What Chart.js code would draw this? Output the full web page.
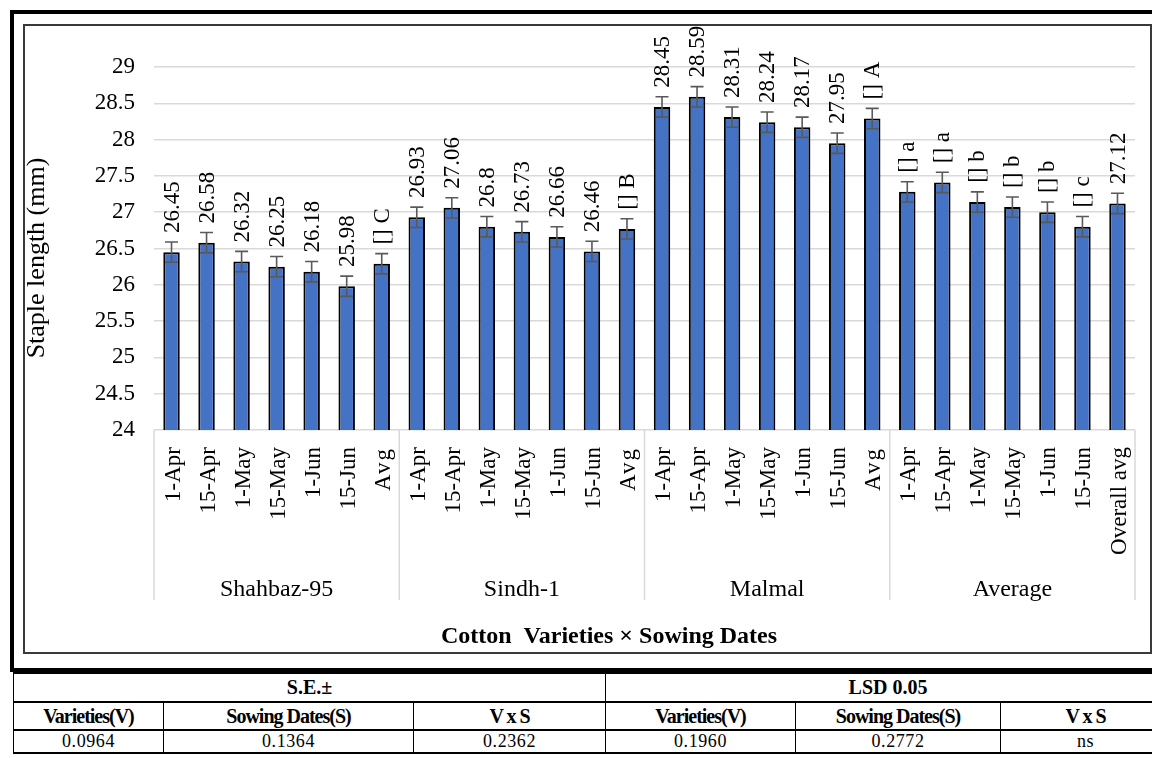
<!DOCTYPE html>
<html><head><meta charset="utf-8">
<script src="https://cdn.jsdelivr.net/npm/chart.js@4.4.1/dist/chart.umd.min.js"></script>
<style>
html,body{margin:0;padding:0;background:#fff;width:1152px;height:758px;overflow:hidden;position:relative;font-family:"Liberation Serif","Times New Roman",serif;}
#outer{position:absolute;left:10px;top:10px;width:1170px;height:662px;border:4px solid #000;border-right:none;box-sizing:border-box;}
#inner{position:absolute;left:23px;top:24px;width:1129px;height:630px;border:2px solid #3a3a3a;box-sizing:border-box;}
#wrap{position:absolute;left:0;top:0;width:1152px;height:672px;}
table{position:absolute;left:13px;top:672px;border-collapse:collapse;table-layout:fixed;width:1157px;}
td{border-left:1px solid #000;border-right:1px solid #000;border-top:2px solid #000;border-bottom:2px solid #000;text-align:center;padding:0;color:#000;}
tr.h td{height:27px;font-weight:bold;font-size:20px;}
tr.s td{height:26px;font-weight:bold;font-size:20px;letter-spacing:-1px;}
tr.v td{height:20px;font-size:18px;letter-spacing:0.6px;}
</style></head>
<body>
<div id="outer"></div>
<div id="inner"></div>
<div id="wrap"><canvas id="c" width="1152" height="672"></canvas></div>
<table>
<colgroup><col style="width:150px"><col style="width:250px"><col style="width:192px"><col style="width:190px"><col style="width:205px"><col style="width:170px"></colgroup>
<tr class="h"><td colspan="3">S.E.±</td><td colspan="3">LSD 0.05</td></tr>
<tr class="s"><td>Varieties(V)</td><td>Sowing Dates(S)</td><td>V x S</td><td>Varieties(V)</td><td>Sowing Dates(S)</td><td>V x S</td></tr>
<tr class="v"><td>0.0964</td><td>0.1364</td><td>0.2362</td><td>0.1960</td><td>0.2772</td><td>ns</td></tr>
</table>
<script>
const categories = ['1-Apr','15-Apr','1-May','15-May','1-Jun','15-Jun','Avg',
  '1-Apr','15-Apr','1-May','15-May','1-Jun','15-Jun','Avg',
  '1-Apr','15-Apr','1-May','15-May','1-Jun','15-Jun','Avg',
  '1-Apr','15-Apr','1-May','15-May','1-Jun','15-Jun','Overall avg'];
const groups = ['Shahbaz-95','Sindh-1','Malmal','Average'];
const groupSizes = [7,7,7,7];
const stapleLength = [26.45,26.58,26.32,26.25,26.18,25.98,26.29,
  26.93,27.06,26.80,26.73,26.66,26.46,26.77,
  28.45,28.59,28.31,28.24,28.17,27.95,28.29,
  27.28,27.41,27.14,27.07,27.00,26.80,27.12];
const errorBars = [0.14,0.14,0.14,0.14,0.14,0.14,0.14,
  0.14,0.14,0.14,0.14,0.14,0.14,0.14,
  0.14,0.14,0.14,0.14,0.14,0.14,0.14,
  0.14,0.14,0.14,0.14,0.14,0.14,0.14];
const valueLabels = ['26.45','26.58','26.32','26.25','26.18','25.98','[] C',
  '26.93','27.06','26.8','26.73','26.66','26.46','[] B',
  '28.45','28.59','28.31','28.24','28.17','27.95','[] A',
  '[] a','[] a','[] b','[] b','[] b','[] c','27.12'];
const yMin = 24, yMax = 29, yStep = 0.5;
const yTitle = 'Staple length (mm)';
const xTitle = 'Cotton  Varieties \u00d7 Sowing Dates';

const FONT = '"Liberation Serif","Times New Roman",serif';

const overlay = {
  id:'overlay',
  afterDatasetsDraw(chart){
    const ctx = chart.ctx, ys = chart.scales.y;
    const meta = chart.getDatasetMeta(0);
    ctx.save();
    meta.data.forEach((bar,i)=>{
      const v = stapleLength[i], e = errorBars[i];
      const yt = ys.getPixelForValue(v+e), yb = ys.getPixelForValue(v-e);
      const x = bar.x;
      ctx.strokeStyle = '#595959'; ctx.lineWidth = 1.6;
      ctx.beginPath();
      ctx.moveTo(x,yt); ctx.lineTo(x,yb);
      ctx.moveTo(x-6.5,yt); ctx.lineTo(x+6.5,yt);
      ctx.moveTo(x-6.5,yb); ctx.lineTo(x+6.5,yb);
      ctx.stroke();
      ctx.save();
      ctx.translate(x+1, yt-9);
      ctx.rotate(-Math.PI/2);
      ctx.font = '23px '+FONT; ctx.fillStyle='#000';
      ctx.textAlign='left'; ctx.textBaseline='middle';
      ctx.fillText(valueLabels[i],0,0);
      ctx.restore();
    });
    ctx.restore();
  },
  afterDraw(chart){
    const ctx = chart.ctx, xs = chart.scales.x, area = chart.chartArea;
    ctx.save();
    const half = (xs.getPixelForValue(1)-xs.getPixelForValue(0))/2;
    ctx.font = '23px '+FONT; ctx.fillStyle='#000';
    categories.forEach((c,i)=>{
      const x = xs.getPixelForValue(i);
      ctx.save(); ctx.translate(x+2, area.bottom+17); ctx.rotate(-Math.PI/2);
      ctx.textAlign='right'; ctx.textBaseline='middle';
      ctx.letterSpacing = (c==='Avg') ? '2px' : '0px';
      ctx.fillText(c,0,0); ctx.restore();
    });
    ctx.strokeStyle='#d9d9d9'; ctx.lineWidth=1.5;
    ctx.font = '24px '+FONT;
    let start=0;
    const bounds=[xs.getPixelForValue(0)-half];
    groupSizes.forEach((n,g)=>{
      const end = start+n-1;
      const xr = xs.getPixelForValue(end)+half;
      bounds.push(xr);
      const xc = (xs.getPixelForValue(start)+xs.getPixelForValue(end))/2;
      ctx.textAlign='center'; ctx.textBaseline='middle';
      ctx.fillText(groups[g], xc, 590);
      start += n;
    });
    ctx.beginPath();
    bounds.forEach(b=>{ctx.moveTo(b,area.bottom);ctx.lineTo(b,600);});
    ctx.stroke();
    ctx.font='bold 24px '+FONT;
    ctx.textAlign='center'; ctx.textBaseline='middle';
    ctx.fillText(xTitle, 609, 637);
    ctx.font='26px '+FONT;
    ctx.save(); ctx.translate(37, 258); ctx.rotate(-Math.PI/2);
    ctx.fillText(yTitle,0,0); ctx.restore();
    ctx.restore();
  }
};

new Chart(document.getElementById('c'), {
  type:'bar',
  data:{labels:categories, datasets:[{data:stapleLength, backgroundColor:'#4472C4', borderColor:'#000', borderWidth:2, barPercentage:0.47, categoryPercentage:1}]},
  options:{
    responsive:false, animation:false,
    layout:{padding:{top:67,left:24,right:17,bottom:19}},
    plugins:{legend:{display:false}, tooltip:{enabled:false}},
    scales:{
      x:{grid:{display:false}, border:{display:false}, ticks:{display:false},
         afterFit:(s)=>{s.height=223;}},
      y:{min:yMin,max:yMax, grid:{color:'#d9d9d9', lineWidth:1.5, drawTicks:false}, border:{display:false},
         ticks:{stepSize:yStep, padding:19, color:'#000', font:{family:FONT,size:23}, callback:(v)=>String(v)},
         afterFit:(s)=>{s.width=130;}}
    }
  },
  plugins:[overlay]
});
</script>
</body></html>
